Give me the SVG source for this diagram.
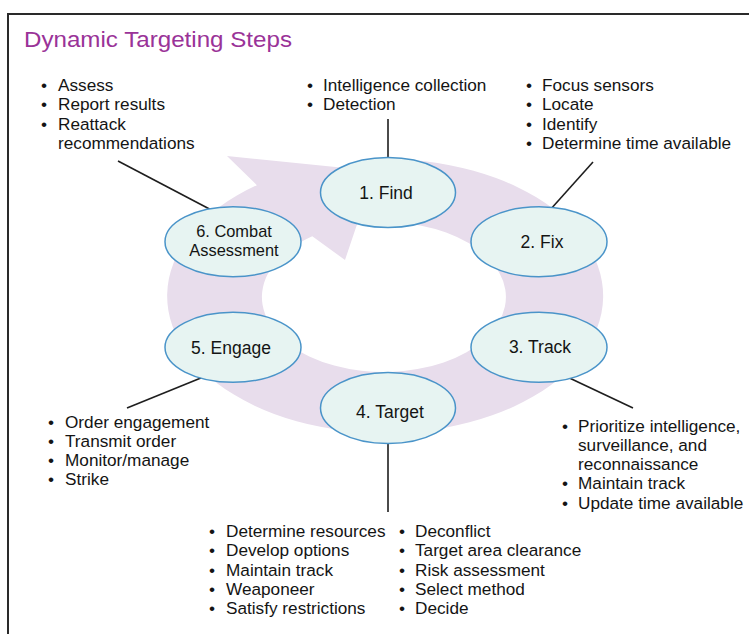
<svg xmlns="http://www.w3.org/2000/svg" width="749" height="634" viewBox="0 0 749 634">
<style>
  .t { font-family: "Liberation Sans", Arial, sans-serif; font-size: 17.2px; fill: #141414; }
  .lbl { font-family: "Liberation Sans", Arial, sans-serif; font-size: 17.5px; fill: #141414; text-anchor: middle; }
  .lbl2 { font-family: "Liberation Sans", Arial, sans-serif; font-size: 16.4px; fill: #141414; text-anchor: middle; }
  .title { font-family: "Liberation Sans", Arial, sans-serif; font-size: 21.5px; fill: #9a3398; }
  .node { fill: #e7f4f2; stroke: #4a94c9; stroke-width: 1.5; }
  .conn { stroke: #1e1e1e; stroke-width: 1.6; fill: none; }
</style>
<rect x="0" y="0" width="749" height="634" fill="#ffffff"/>
<rect x="8" y="14" width="800" height="700" fill="none" stroke="#2a2a2a" stroke-width="2"/>
<text class="title" x="24" y="47" textLength="268" lengthAdjust="spacingAndGlyphs">Dynamic Targeting Steps</text>

<!-- cycle ring with arrowhead -->
<path id="ring" d="M 400,159.3 A 218 137 0 1 1 256.9,185.2 L 227,156 L 375,171 L 345,260 L 312.3,236.3 A 122 75 0 1 0 392.4,222.2 Z" fill="#e8ddec"/>

<!-- connectors -->
<g id="connectors">
  <line class="conn" x1="388" y1="119" x2="388" y2="173"/>
  <line class="conn" x1="593" y1="162" x2="541" y2="220"/>
  <line class="conn" x1="118" y1="161" x2="219" y2="214"/>
  <line class="conn" x1="223" y1="369" x2="127" y2="408"/>
  <line class="conn" x1="544" y1="366" x2="633" y2="408"/>
  <line class="conn" x1="388" y1="433" x2="388" y2="512"/>
</g>

<!-- nodes -->
<g id="find">
  <ellipse class="node" cx="388" cy="192.5" rx="67.5" ry="35"/>
  <text class="lbl" x="386" y="199">1. Find</text>
</g>
<g id="fix">
  <ellipse class="node" cx="539" cy="241.7" rx="68" ry="35"/>
  <text class="lbl" x="542" y="248">2. Fix</text>
</g>
<g id="track">
  <ellipse class="node" cx="539" cy="347.3" rx="68" ry="35"/>
  <text class="lbl" x="540" y="353">3. Track</text>
</g>
<g id="target">
  <ellipse class="node" cx="388" cy="408" rx="67.5" ry="35.5"/>
  <text class="lbl" x="390" y="418">4. Target</text>
</g>
<g id="engage">
  <ellipse class="node" cx="233" cy="347.3" rx="68" ry="35"/>
  <text class="lbl" x="231" y="354">5. Engage</text>
</g>
<g id="combat">
  <ellipse class="node" cx="233" cy="241.7" rx="68" ry="35"/>
  <text class="lbl2" x="234" y="236.5">6. Combat</text>
  <text class="lbl2" x="234" y="255.5">Assessment</text>
</g>

<!-- bullet lists -->
<g id="list-assess">
  <text class="t" x="41" y="91">•</text><text class="t" x="58" y="91">Assess</text>
  <text class="t" x="41" y="110.3">•</text><text class="t" x="58" y="110.3">Report results</text>
  <text class="t" x="41" y="129.6">•</text><text class="t" x="58" y="129.6">Reattack</text>
  <text class="t" x="58" y="149">recommendations</text>
</g>
<g id="list-find">
  <text class="t" x="307" y="91">•</text><text class="t" x="323" y="91">Intelligence collection</text>
  <text class="t" x="307" y="110.3">•</text><text class="t" x="323" y="110.3">Detection</text>
</g>
<g id="list-fix">
  <text class="t" x="526" y="91">•</text><text class="t" x="542" y="91">Focus sensors</text>
  <text class="t" x="526" y="110.3">•</text><text class="t" x="542" y="110.3">Locate</text>
  <text class="t" x="526" y="129.6">•</text><text class="t" x="542" y="129.6">Identify</text>
  <text class="t" x="526" y="149">•</text><text class="t" x="542" y="149">Determine time available</text>
</g>
<g id="list-engage">
  <text class="t" x="48" y="427.5">•</text><text class="t" x="65" y="427.5">Order engagement</text>
  <text class="t" x="48" y="446.8">•</text><text class="t" x="65" y="446.8">Transmit order</text>
  <text class="t" x="48" y="466.1">•</text><text class="t" x="65" y="466.1">Monitor/manage</text>
  <text class="t" x="48" y="485.4">•</text><text class="t" x="65" y="485.4">Strike</text>
</g>
<g id="list-track">
  <text class="t" x="562" y="431.5">•</text><text class="t" x="578" y="431.5">Prioritize intelligence,</text>
  <text class="t" x="578" y="450.8">surveillance, and</text>
  <text class="t" x="578" y="470.1">reconnaissance</text>
  <text class="t" x="562" y="489.4">•</text><text class="t" x="578" y="489.4">Maintain track</text>
  <text class="t" x="562" y="508.7">•</text><text class="t" x="578" y="508.7">Update time available</text>
</g>
<g id="list-target">
  <text class="t" x="209" y="537">•</text><text class="t" x="226" y="537">Determine resources</text>
  <text class="t" x="209" y="556.3">•</text><text class="t" x="226" y="556.3">Develop options</text>
  <text class="t" x="209" y="575.6">•</text><text class="t" x="226" y="575.6">Maintain track</text>
  <text class="t" x="209" y="594.9">•</text><text class="t" x="226" y="594.9">Weaponeer</text>
  <text class="t" x="209" y="614.2">•</text><text class="t" x="226" y="614.2">Satisfy restrictions</text>
  <text class="t" x="399" y="537">•</text><text class="t" x="415" y="537">Deconflict</text>
  <text class="t" x="399" y="556.3">•</text><text class="t" x="415" y="556.3">Target area clearance</text>
  <text class="t" x="399" y="575.6">•</text><text class="t" x="415" y="575.6">Risk assessment</text>
  <text class="t" x="399" y="594.9">•</text><text class="t" x="415" y="594.9">Select method</text>
  <text class="t" x="399" y="614.2">•</text><text class="t" x="415" y="614.2">Decide</text>
</g>
</svg>
